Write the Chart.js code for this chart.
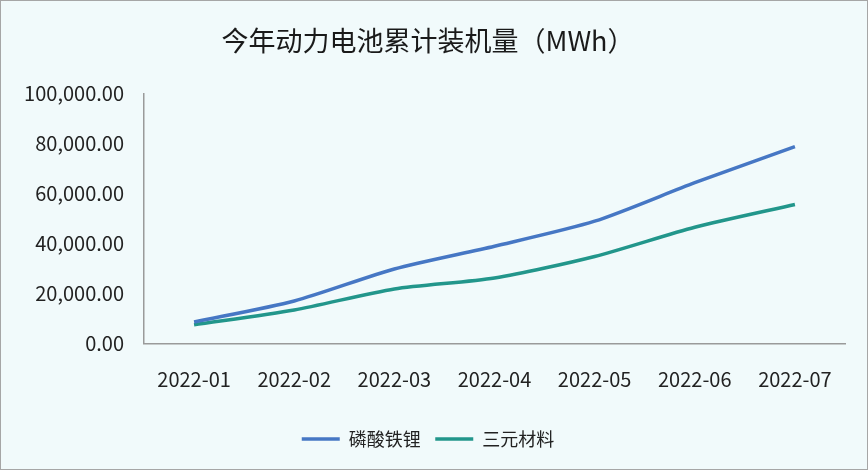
<!DOCTYPE html>
<html>
<head>
<meta charset="utf-8">
<script src="https://cdn.jsdelivr.net/npm/chart.js@4/dist/chart.umd.min.js"></script>
<style>
  html, body { margin: 0; padding: 0; }
  #wrap { width: 868px; height: 470px; box-sizing: border-box; border: 1px solid #a6a6a6; background: #f1fafb; }
</style>
</head>
<body>
<div id="wrap"><canvas id="c"></canvas></div>
<script>
const months = ['2022-01', '2022-02', '2022-03', '2022-04', '2022-05', '2022-06', '2022-07'];
const lfp = [8600, 17000, 29800, 38900, 48900, 64300, 78700];
const ncm = [7500, 13400, 21800, 26200, 34800, 46500, 55600];
const yTicks = [0, 20000, 40000, 60000, 80000, 100000];

const fmt = v => v.toLocaleString('en-US', {minimumFractionDigits: 2, maximumFractionDigits: 2});
const font = "'Noto Sans CJK SC', 'Noto Sans', sans-serif";

const cfg = {
  type: 'line',
  data: {
    labels: months,
    datasets: [{
      label: '磷酸铁锂',
      data: lfp,
      borderColor: '#4677c4',
      backgroundColor: '#4677c4',
      borderWidth: 3.5,
      pointRadius: 0,
      tension: 0.25
    }, {
      label: '三元材料',
      data: ncm,
      borderColor: '#22968b',
      backgroundColor: '#22968b',
      borderWidth: 3.5,
      pointRadius: 0,
      tension: 0.25
    }]
  },
  options: {
    responsive: false,
    animation: false,
    layout: { padding: { left: 10, right: 22, top: 0, bottom: 11 } },
    plugins: {
      title: {
        display: true,
        text: '今年动力电池累计装机量（MWh）',
        color: '#1a1a1a',
        font: { family: font, size: 27, weight: 'normal' },
        padding: { top: 24, bottom: 36 }
      },
      legend: {
        position: 'bottom',
        labels: {
          color: '#222',
          font: { family: font, size: 18 },
          usePointStyle: true,
          pointStyle: 'line',
          pointStyleWidth: 38,
          padding: 14.5
        }
      },
      tooltip: { enabled: false }
    },
    scales: {
      x: {
        offset: true,
        grid: { display: false, drawTicks: false },
        border: { color: '#9a9a9a', width: 1.5 },
        ticks: { color: '#222', font: { family: font, size: 20 }, padding: 24, maxRotation: 0 }
      },
      y: {
        min: 0,
        max: 100000,
        afterBuildTicks: s => { s.ticks = yTicks.map(v => ({ value: v })); },
        afterFit: s => { s.width = 133; },
        grid: { display: false, drawTicks: false },
        border: { color: '#9a9a9a', width: 1.5 },
        ticks: { color: '#222', font: { family: font, size: 20 }, padding: 20, callback: v => fmt(v) }
      }
    }
  }
};

const cv = document.getElementById('c');
cv.width = 866; cv.height = 468;
const chart = new Chart(cv, cfg);
</script>
</body>
</html>
